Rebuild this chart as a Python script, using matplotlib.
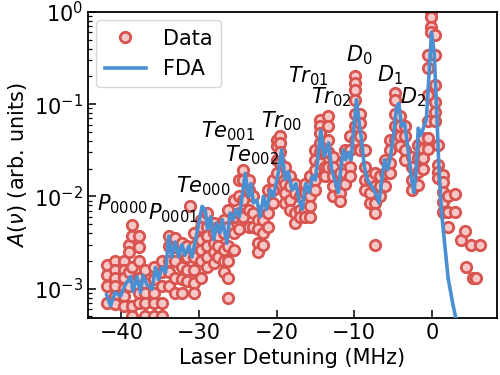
import matplotlib
matplotlib.use("Agg")
import matplotlib.pyplot as plt
from matplotlib.ticker import LogLocator, NullFormatter

# ---- measured data (columns of repeated scans) ----
col_x = [-41.8, -40.8, -39.7, -39.05, -38.6, -37.75, -36.9, -35.8, -34.8, -33.9,
         -33.05, -32.2, -31.55, -31.1, -30.7, -29.8, -29.0, -28.1, -27.5, -26.8,
         -26.2, -25.55, -24.9, -24.3, -23.6, -23.0, -22.35, -21.7, -21.05, -20.4,
         -20.0, -19.55, -18.9, -18.25, -17.6, -17.0, -16.3, -15.7, -15.05, -14.4,
         -13.75, -13.4, -12.7, -11.85, -11.2, -10.55, -9.9, -9.25, -8.6, -7.95,
         -7.3, -6.7, -6.05, -5.4, -4.75, -4.1, -3.5, -2.6, -1.75, -1.1,
         -0.47, -0.04, 0.39, 0.81, 1.45, 2.1, 2.96, 3.8, 4.24, 4.46,
         5.1, 5.3, 5.75, 6.17]
col_y = [
    [0.0018, 0.0014, 0.00106, 0.0007],
    [0.002, 0.0016, 0.0013, 0.00106, 0.00083, 0.00068],
    [0.002, 0.0016, 0.0013, 0.00102, 0.00083, 0.00065],
    [0.003, 0.0025, 0.0015, 0.00106],
    [0.0049, 0.0037, 0.0017, 0.00065, 0.0005],
    [0.0037, 0.0028, 0.002, 0.0013, 0.00089, 0.0007],
    [0.0016, 0.00115, 0.00089, 0.0007, 0.0005],
    [0.0017, 0.00126, 0.00089, 0.0007, 0.0005],
    [0.002, 0.0015, 0.00106, 0.0007, 0.0005],
    [0.0037, 0.0029, 0.002, 0.0015, 0.00106],
    [0.0035, 0.0028, 0.002, 0.0013, 0.00089],
    [0.0031, 0.0025, 0.0017, 0.00126, 0.00089],
    [0.0029, 0.0022, 0.0016, 0.0012],
    [0.0078],
    [0.004, 0.0029, 0.0022, 0.0016, 0.00115, 0.00089],
    [0.0056, 0.0047, 0.0034, 0.0026, 0.002, 0.0013],
    [0.0066, 0.0047, 0.0037, 0.0029, 0.0022, 0.0017],
    [0.0051, 0.004, 0.0031, 0.0025, 0.0019],
    [0.0047, 0.0037, 0.0029, 0.0022],
    [0.0056, 0.004, 0.0026, 0.002, 0.0015],
    [0.0072, 0.0047, 0.0029, 0.002, 0.0013, 0.00079],
    [0.0091, 0.006, 0.004, 0.0026],
    [0.0151, 0.010, 0.0066, 0.0044],
    [0.0195, 0.0151, 0.0091, 0.006],
    [0.0151, 0.0117, 0.0072, 0.0047],
    [0.010, 0.0066, 0.0047],
    [0.0056, 0.0044, 0.0031, 0.0025],
    [0.0072, 0.0056, 0.004, 0.003],
    [0.0117, 0.0091, 0.0066, 0.0047],
    [0.0151, 0.0117, 0.0085],
    [0.041, 0.035, 0.025, 0.0178],
    [0.045, 0.038, 0.030, 0.023],
    [0.021, 0.0138, 0.011, 0.0085],
    [0.0166, 0.0129, 0.0091, 0.0072],
    [0.0138, 0.011, 0.0066, 0.0051],
    [0.010, 0.0072, 0.006],
    [0.0138, 0.011, 0.0072, 0.006],
    [0.0166, 0.0129, 0.010, 0.0078, 0.006],
    [0.032, 0.025, 0.0195, 0.0151, 0.0117],
    [0.068, 0.058, 0.049, 0.038, 0.030, 0.023],
    [0.038, 0.030, 0.021, 0.0166],
    [0.074, 0.058, 0.041, 0.030, 0.021],
    [0.027, 0.021, 0.0166, 0.0129, 0.010],
    [0.0178, 0.0138, 0.011, 0.0089],
    [0.032, 0.025, 0.0178, 0.0138],
    [0.045, 0.032, 0.021, 0.0166],
    [0.20, 0.17, 0.143, 0.112, 0.079, 0.058, 0.041],
    [0.079, 0.062, 0.045, 0.032],
    [0.032, 0.021, 0.0151, 0.0117],
    [0.0151, 0.011, 0.0085],
    [0.0178, 0.0129, 0.0085, 0.0066, 0.003],
    [0.0166, 0.0129, 0.010],
    [0.025, 0.0178, 0.0129],
    [0.041, 0.032, 0.023, 0.0178],
    [0.132, 0.112, 0.079, 0.058, 0.041],
    [0.074, 0.058, 0.045, 0.035],
    [0.058, 0.045, 0.032, 0.025],
    [0.027, 0.021, 0.0151, 0.0117],
    [0.036, 0.026, 0.0186, 0.0132],
    [0.043, 0.033, 0.026, 0.020],
    [0.34, 0.25, 0.126, 0.065, 0.043, 0.033],
    [1.0, 0.88, 0.69, 0.60],
    [0.56, 0.34, 0.16, 0.106, 0.083, 0.065],
    [0.036, 0.022, 0.0186, 0.0158],
    [0.017, 0.0145, 0.0112, 0.0087, 0.0068],
    [0.0102, 0.0068, 0.0047],
    [0.0105, 0.0068],
    [0.0034],
    [0.0042],
    [0.0017],
    [0.003],
    [0.0013],
    [0.0013],
    [0.003],
]

# ---- FDA model curve ----
fda_x = [-41.9, -41.4, -40.8, -40.1, -39.5, -38.8, -38.5, -38.0, -37.55, -37.2,
         -36.7, -36.05, -35.6, -35.2, -34.8, -34.3, -33.9, -33.5, -33.05, -32.6,
         -32.2, -31.8, -31.3, -30.9, -30.5, -30.1, -29.6, -29.2, -28.9, -28.5,
         -28.1, -27.7, -27.3, -27.0, -26.4, -26.0, -25.6, -25.25, -24.8, -24.5,
         -24.05, -23.6, -23.3, -23.0, -22.55, -22.1, -21.7, -21.3, -20.8, -20.4,
         -19.8, -19.35, -18.9, -18.5, -18.0, -17.5, -17.1, -16.7, -16.25, -15.8,
         -15.4, -15.0, -14.6, -14.3, -13.85, -13.3, -12.9, -12.5, -12.05, -11.7,
         -11.4, -11.1, -10.75, -10.4, -10.0, -9.7, -9.35, -9.05, -8.7, -8.3,
         -7.75, -7.3, -6.8, -6.5, -6.1, -5.7, -5.4, -5.0, -4.55, -4.25,
         -3.9, -3.5, -3.05, -2.6, -2.3, -2.0, -1.75, -1.4, -1.1, -0.7,
         -0.26, -0.04, 0.3, 0.6, 0.9, 1.25, 1.67, 2.1, 2.74, 3.05, 3.5]
fda_y = [0.00086, 0.00065, 0.00091, 0.00083, 0.0011, 0.00135, 0.00093, 0.00135, 0.00091, 0.0014,
         0.0011, 0.00098, 0.0017, 0.00126, 0.0017, 0.0015, 0.0037, 0.0022, 0.0032, 0.0022,
         0.003, 0.0023, 0.0029, 0.0022, 0.0032, 0.0047, 0.0078, 0.0072, 0.0044, 0.006,
         0.0034, 0.0051, 0.004, 0.0056, 0.0031, 0.0066, 0.0056, 0.0072, 0.006, 0.0091,
         0.0178, 0.010, 0.0138, 0.0085, 0.0091, 0.006, 0.010, 0.0072, 0.0117, 0.010,
         0.0178, 0.032, 0.0151, 0.0186, 0.0117, 0.0138, 0.0091, 0.0072, 0.0138, 0.011,
         0.0166, 0.0151, 0.030, 0.052, 0.027, 0.038, 0.0195, 0.0151, 0.011, 0.021,
         0.032, 0.025, 0.030, 0.025, 0.062, 0.112, 0.062, 0.041, 0.021, 0.0151,
         0.0129, 0.011, 0.0085, 0.0138, 0.025, 0.0195, 0.025, 0.041, 0.093, 0.102,
         0.058, 0.062, 0.032, 0.0151, 0.011, 0.020, 0.055, 0.046, 0.055, 0.069,
         0.29, 0.60, 0.37, 0.098, 0.022, 0.0068, 0.003, 0.0013, 0.00066, 0.0005, 0.00025]

# ---- peak labels ----
label_text = [r'$P_{0000}$', r'$P_{0001}$', r'$Te_{000}$', r'$Te_{001}$', r'$Te_{002}$',
              r'$Tr_{00}$', r'$Tr_{01}$', r'$Tr_{02}$', r'$D_0$', r'$D_1$', r'$D_2$']
label_x = [-39.8, -33.3, -29.5, -26.3, -23.15, -19.4, -15.9, -12.9, -9.3, -5.44, -2.4]
label_y = [0.0083, 0.00665, 0.0130, 0.0508, 0.0283, 0.0652, 0.199, 0.120, 0.342, 0.204, 0.118]

data_x = [x for x, ys in zip(col_x, col_y) for _ in ys]
data_y = [y for ys in col_y for y in ys]

FS = 15
fig = plt.figure(figsize=(5, 3.75), dpi=100)
ax = fig.add_axes([0.176, 0.152, 0.818, 0.816])

red = '#d9534f'
blue = '#4a8fd2'
ax.plot(data_x, data_y, 'o', ls='none', ms=7.5, mec=red, mfc='#f6c9c8', mew=2.0,
        label='Data', zorder=2)
ax.plot(fda_x, fda_y, '-', color=blue, lw=2.6, label='FDA', zorder=3)

ax.set_yscale('log')
ax.set_xlim(-44.3, 8.4)
ax.set_ylim(4.8e-4, 1.0)

for t, x, y in zip(label_text, label_x, label_y):
    ax.text(x, y, t, fontsize=FS, ha='center', va='center', zorder=5)

ax.tick_params(which='both', direction='in', labelsize=FS, top=False, right=False)
ax.tick_params(which='major', length=6, width=1.1)
ax.tick_params(which='minor', length=3, width=0.9)
ax.yaxis.set_minor_locator(LogLocator(base=10, subs=range(2, 10), numticks=12))
ax.yaxis.set_minor_formatter(NullFormatter())
ax.set_xticks([-40, -30, -20, -10, 0])
for s in ax.spines.values():
    s.set_linewidth(1.3)

ax.set_xlabel('Laser Detuning (MHz)', fontsize=FS)
ax.set_ylabel(r'$A(\nu)$ (arb. units)', fontsize=FS)
ax.legend(loc='upper left', fontsize=FS, numpoints=1, handlelength=2.0,
          borderaxespad=0.4, framealpha=0.8)

fig.savefig('out.png', dpi=100)
